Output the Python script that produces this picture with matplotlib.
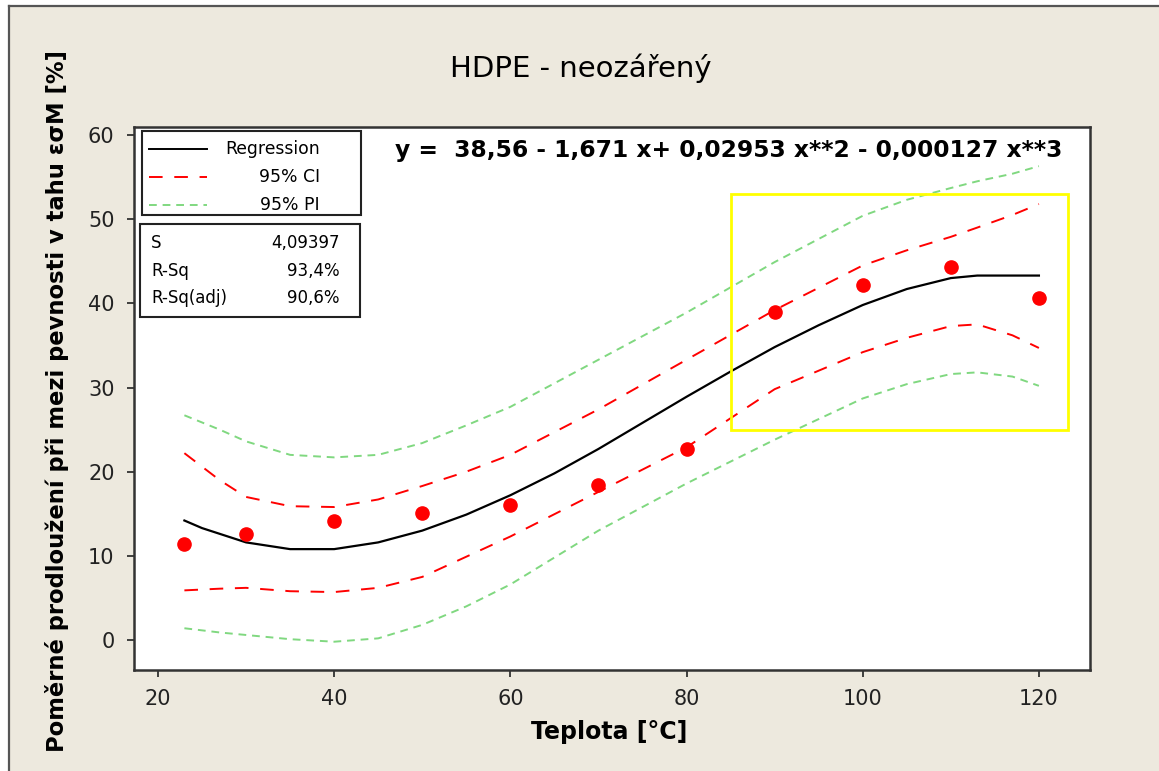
import matplotlib.pyplot as plt
from matplotlib.patches import Rectangle
from matplotlib.lines import Line2D

# measured points
temp = [23, 30, 40, 50, 60, 70, 80, 90, 100, 110, 120]
elong = [11.4, 12.6, 14.1, 15.1, 16.0, 18.4, 22.7, 39.0, 42.2, 44.3, 40.6]

# regression line
fit_x = [23, 25, 30, 35, 40, 45, 50, 55, 60, 65, 70, 75, 80, 85, 90, 95, 100, 105, 110, 113, 120]
fit_y = [14.2, 13.3, 11.6, 10.8, 10.8, 11.6, 13.0, 14.9, 17.2, 19.8, 22.7, 25.8, 28.9, 31.9,
         34.8, 37.4, 39.8, 41.7, 43.0, 43.3, 43.3]

# confidence / prediction bands
band_x = [23, 27, 30, 35, 40, 45, 50, 55, 60, 70, 80, 90, 100, 105, 110, 113, 117, 120]
ci_hi = [22.2, 19.0, 17.0, 15.9, 15.8, 16.7, 18.3, 20.0, 22.0, 27.4, 33.3, 39.2, 44.5, 46.3,
         47.9, 49.0, 50.5, 51.8]
ci_lo = [5.9, 6.1, 6.2, 5.8, 5.7, 6.2, 7.5, 9.9, 12.3, 17.6, 22.9, 29.8, 34.2, 35.9,
         37.3, 37.5, 36.2, 34.7]
pi_hi = [26.7, 25.0, 23.6, 22.0, 21.7, 22.0, 23.4, 25.5, 27.7, 33.3, 38.9, 44.9, 50.4, 52.3,
         53.7, 54.5, 55.4, 56.3]
pi_lo = [1.4, 0.9, 0.6, 0.1, -0.2, 0.2, 1.8, 4.0, 6.6, 13.0, 18.6, 23.8, 28.7, 30.4,
         31.6, 31.8, 31.3, 30.2]

# highlighted region
box_x = [85, 123.3]
box_y = [25, 53]

stats_names = ['S', 'R-Sq', 'R-Sq(adj)']
stats_vals = ['4,09397', '93,4%', '90,6%']
equation = 'y =  38,56 - 1,671 x+ 0,02953 x**2 - 0,000127 x**3'

W, H = 1159, 771
bg = '#EDE9DE'
red = '#FF0000'
green = '#80D880'

fig = plt.figure(figsize=(W / 100, H / 100), dpi=100, facecolor='white')


def fx(px):
    return px / W


def fy(py):
    return 1 - py / H


# beige panel with dark frame on top and left
fig.patches.append(Rectangle((fx(9), 0), 1 - fx(9), fy(6), transform=fig.transFigure,
                             facecolor=bg, edgecolor='none', zorder=-2))
fig.lines.append(Line2D([fx(9), 1], [fy(6), fy(6)], transform=fig.transFigure,
                        color='#555555', lw=1.6, zorder=-1))
fig.lines.append(Line2D([fx(9), fx(9)], [0, fy(6)], transform=fig.transFigure,
                        color='#555555', lw=1.6, zorder=-1))

ax = fig.add_axes([fx(134), fy(670), fx(1090) - fx(134), fy(127) - fy(670)])
ax.set_facecolor('white')

ax.plot(band_x, pi_hi, color=green, lw=1.4, linestyle=(0, (4, 3)))
ax.plot(band_x, pi_lo, color=green, lw=1.4, linestyle=(0, (4, 3)))
ax.plot(band_x, ci_hi, color=red, lw=1.4, linestyle=(0, (7, 6)))
ax.plot(band_x, ci_lo, color=red, lw=1.4, linestyle=(0, (7, 6)))
ax.plot(fit_x, fit_y, color='black', lw=1.6)
ax.plot(temp, elong, 'o', color=red, markersize=9.5, zorder=5)

ax.add_patch(Rectangle((box_x[0], box_y[0]), box_x[1] - box_x[0], box_y[1] - box_y[0],
                       fill=False, edgecolor='#FFFF00', linewidth=2, zorder=6))

ax.set_xlim(17.28, 125.8)
ax.set_ylim(-3.56, 60.95)
ax.set_xticks([20, 40, 60, 80, 100, 120])
ax.set_yticks([0, 10, 20, 30, 40, 50, 60])
ax.tick_params(direction='out', length=5, width=1.2, labelsize=15, colors='#222222', pad=9)
for s in ax.spines.values():
    s.set_color('#333333')
    s.set_linewidth(1.8)

fig.text(fx(609), fy(732), 'Teplota [°C]', ha='center', va='center', fontsize=17,
         fontweight='bold')
fig.text(fx(57), fy(401), 'Poměrné prodloužení při mezi pevnosti v tahu εσM [%]',
         rotation=90, ha='center', va='center', fontsize=16.3, fontweight='bold')
fig.text(fx(581), fy(68), 'HDPE - neozářený', ha='center', va='center', fontsize=21)
fig.text(fx(1062), fy(150), equation, ha='right', va='center', fontsize=16.8,
         fontweight='bold')

# legend box
fig.patches.append(Rectangle((fx(142), fy(215)), fx(361) - fx(142), fy(131) - fy(215),
                             transform=fig.transFigure, facecolor='white',
                             edgecolor='#222222', linewidth=1.5, zorder=7))
leg = [('Regression', 'black', '-'), ('95% CI', red, (0, (7, 6))), ('95% PI', green, (0, (4, 3)))]
for i, (lab, c, ls) in enumerate(leg):
    yy = fy(149 + 28 * i)
    fig.lines.append(Line2D([fx(149), fx(207)], [yy, yy], transform=fig.transFigure,
                            color=c, linestyle=ls, lw=1.4, zorder=8))
    fig.text(fx(320), yy, lab, ha='right', va='center', fontsize=12.4, zorder=8)

# stats box
fig.patches.append(Rectangle((fx(140), fy(317)), fx(360) - fx(140), fy(224) - fy(317),
                             transform=fig.transFigure, facecolor='white',
                             edgecolor='#222222', linewidth=1.5, zorder=7))
for i, (n, v) in enumerate(zip(stats_names, stats_vals)):
    yy = fy(243 + 27.5 * i)
    fig.text(fx(151), yy, n, ha='left', va='center', fontsize=12, zorder=8)
    fig.text(fx(340), yy, v, ha='right', va='center', fontsize=12, zorder=8)

fig.savefig('out.png', dpi=100, facecolor=fig.get_facecolor())
